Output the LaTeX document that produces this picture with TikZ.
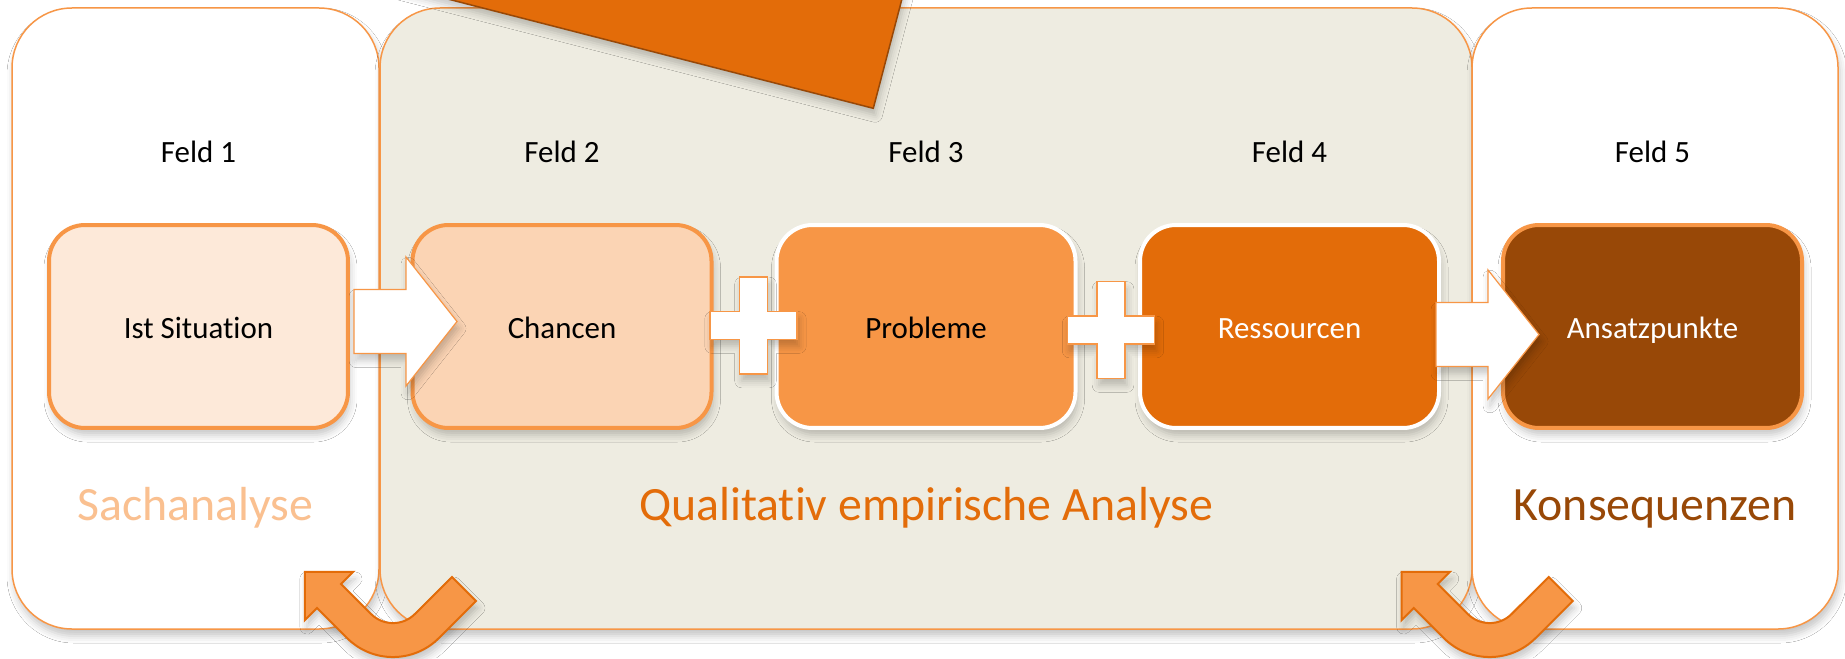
\documentclass[tikz,border=0pt]{standalone}
\usepackage{fontspec}
\setmainfont{Carlito}[Ligatures={NoCommon}]
\usepackage{xcolor}
\usetikzlibrary{shadows.blur}

\definecolor{accorange}{HTML}{F79646}
\definecolor{darkorange}{HTML}{E36C09}
\definecolor{brownorange}{HTML}{984807}
\definecolor{peach}{HTML}{FDE9D9}
\definecolor{apricot}{HTML}{FBD4B4}
\definecolor{salmon}{HTML}{FAC090}
\definecolor{panelbg}{HTML}{EEECE1}

\begin{document}
\begin{tikzpicture}[scale=0.1]
	\tikzstyle{every node}+=[inner sep=0pt]
	\tikzstyle{softshadow}=[blur shadow={shadow xshift=0.2mm, shadow yshift=-0.7mm, shadow blur radius=0.7mm, shadow opacity=22}]
	\tikzstyle{panel}=[draw=accorange, line width=0.15mm, rounded corners=6mm, softshadow]
	\tikzstyle{feldbox}=[rounded corners=3.6mm, minimum width=29.9mm, minimum height=20.3mm, line width=0.4mm, text height=6.6pt, text depth=0pt, font=\fontsize{8.8}{10}\selectfont, softshadow]
	\tikzstyle{feldlabel}=[anchor=base, font=\fontsize{8.8}{10}\selectfont]
	\tikzstyle{phaselabel}=[anchor=base, font=\fontsize{13.6}{16}\selectfont]
	\tikzstyle{blockarrow}=[draw=accorange, fill=white, line width=0.12mm, softshadow]
	\tikzstyle{plus}=[draw=accorange, fill=white, line width=0.15mm, softshadow]
	\tikzstyle{uturn}=[draw=darkorange, fill=accorange, line width=0.2mm, softshadow]
	\useasboundingbox (0,0) rectangle (184.5,-65.8);
	\clip (0,0) rectangle (184.5,-65.8);
	\fill [white] (0,0) rectangle (184.5,-65.8);
	\draw [panel, fill=white] (1.2,-0.8) rectangle (37.9,-62.9);
	\draw [panel, fill=panelbg] (38.0,-0.8) rectangle (147.2,-62.9);
	\draw [panel, fill=white] (147.2,-0.8) rectangle (183.8,-62.9);
	\filldraw [draw=brownorange, fill=darkorange, line width=0.15mm, softshadow] (37.38,2) -- (90.69,2) -- (87.33,-10.83) -- cycle;
	\draw (19.85,-32.65) node [feldbox, draw=accorange, fill=peach] (ist) {Ist Situation};
	\draw (56.2,-32.65) node [feldbox, draw=accorange, fill=apricot] (chancen) {Chancen};
	\draw (92.6,-32.65) node [feldbox, draw=white, fill=accorange] (probleme) {Probleme};
	\draw (128.95,-32.65) node [feldbox, draw=white, fill=darkorange, text=white] (ressourcen) {Ressourcen};
	\draw (165.25,-32.65) node [feldbox, draw=accorange, fill=brownorange, text=white] (ansatz) {Ansatzpunkte};
	\foreach \x/\n in {19.85/1,56.2/2,92.6/3,128.95/4,165.25/5}
		\draw (\x,-16.3) node [feldlabel] (feld\n) {Feld \n};
	\foreach \x/\y in {35.4/-32.15,143.6/-33.45}
		\filldraw [blockarrow] (\x,\y+3.2) -- ++(5.2,0) -- ++(0,3.25) -- (\x+10.3,\y) -- (\x+5.2,\y-6.45) -- ++(0,3.25) -- (\x,\y-3.2) -- cycle;
	\foreach \cx/\cy in {75.35/-32.55,111.1/-33.0}
		\filldraw [plus] (\cx-1.38,\cy+4.83) -- ++(2.76,0) -- ++(0,-3.45) -- ++(2.99,0) -- ++(0,-2.76) -- ++(-2.99,0) -- ++(0,-3.45) -- ++(-2.76,0) -- ++(0,3.45) -- ++(-2.99,0) -- ++(0,2.76) -- ++(2.99,0) -- cycle;
	\foreach \dx in {0,109.67}
		\filldraw [uturn] (\dx+34.10,-58.40) -- (\dx+35.31,-57.19) -- (\dx+30.49,-57.19) -- (\dx+30.49,-62.01) -- (\dx+31.70,-60.80) -- (\dx+34.70,-63.80) arc [start angle=225, end angle=315, radius=6.5] -- (\dx+47.60,-60.10) -- (\dx+45.20,-57.70) -- (\dx+41.49,-61.40) arc [start angle=315, end angle=225, radius=3.1] -- cycle;
	\draw (19.55,-52.0) node [phaselabel, text=salmon] (sach) {Sachanalyse};
	\draw (92.6,-52.0) node [phaselabel, text=darkorange] (empirie) {Qualitativ empirische Analyse};
	\draw (165.5,-52.0) node [phaselabel, text=brownorange] (konsequenz) {Konsequenzen};
\end{tikzpicture}
\end{document}
